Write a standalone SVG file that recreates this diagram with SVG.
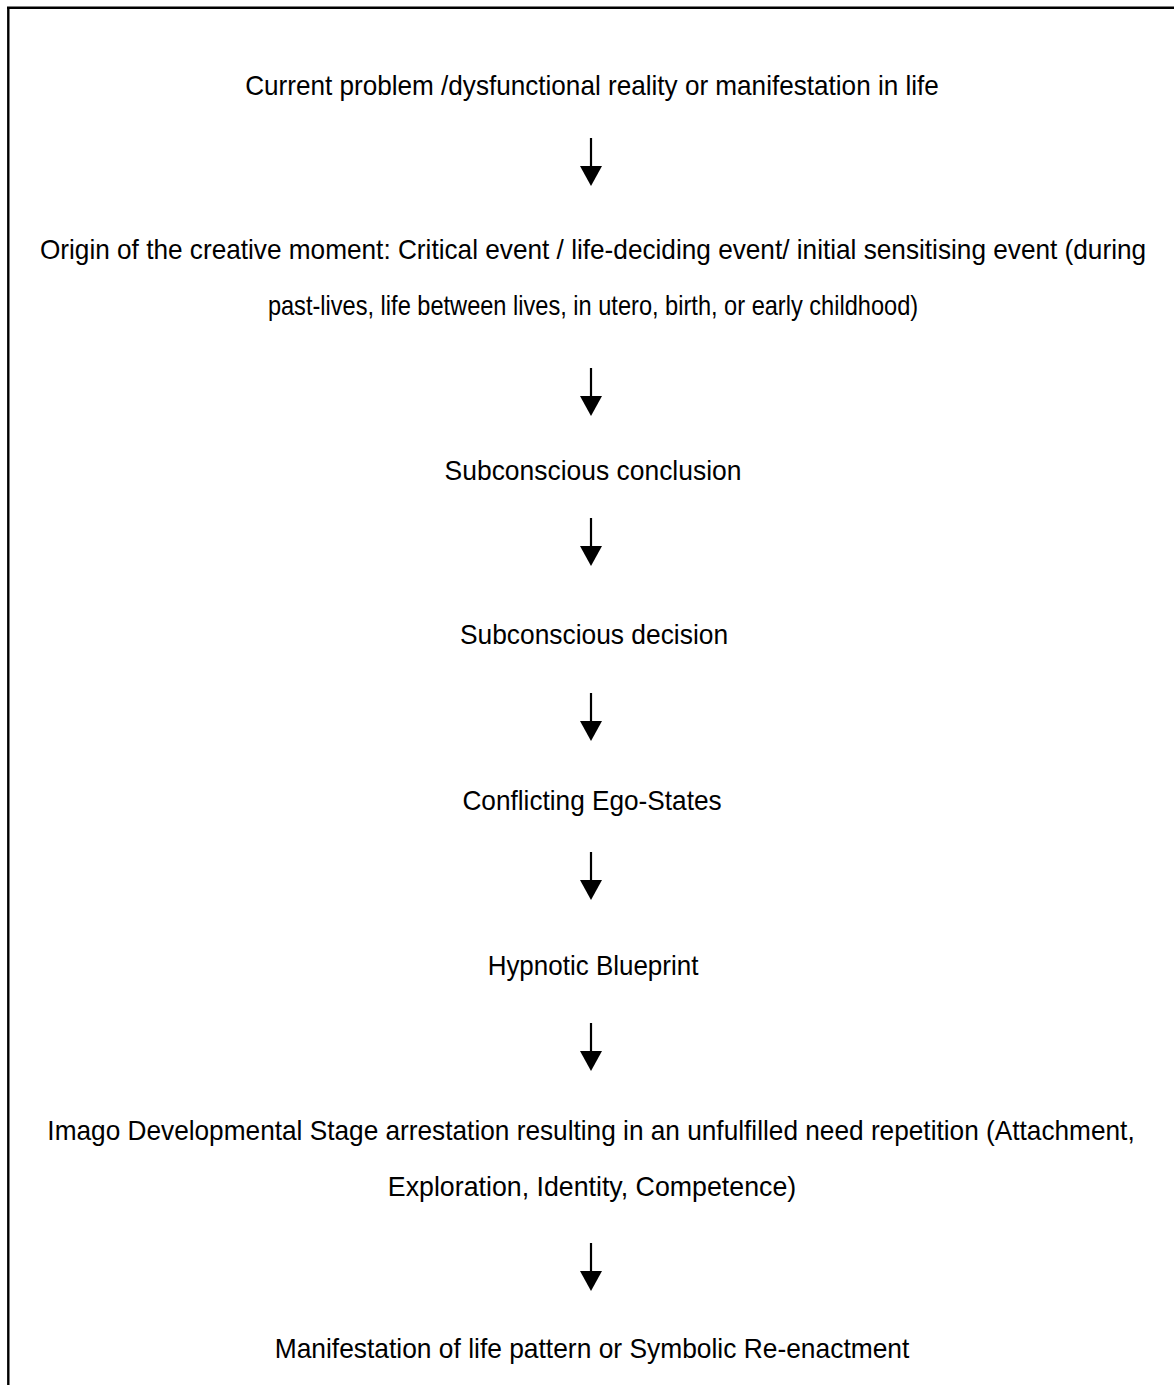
<svg xmlns="http://www.w3.org/2000/svg" width="1174" height="1385" viewBox="0 0 1174 1385">
<style>
.t{font-family:"Liberation Sans Narrow","Arial Narrow","Liberation Sans",Arial,sans-serif;font-size:28px;fill:#000;text-anchor:middle}
.s{stroke:#000;stroke-width:2.2;fill:none}
.h{fill:#000;stroke:none}
</style>
<defs>
<g id="arr">
<line class="s" x1="0" y1="0" x2="0" y2="29"/>
<polygon class="h" points="-11,28 11,28 0,48"/>
</g>
</defs>
<rect width="1174" height="1385" fill="#fff"/>
<g id="frame">
<line x1="7" y1="7.8" x2="1174" y2="7.8" stroke="#000" stroke-width="2.4"/>
<line x1="8.3" y1="7" x2="8.3" y2="1385" stroke="#000" stroke-width="2.4"/>
</g>
<g id="n1"><g transform="translate(592,95) scale(0.82,1)"><text class="t" x="0" y="0" textLength="846" lengthAdjust="spacingAndGlyphs">Current problem /dysfunctional reality or manifestation in life</text></g></g>
<g id="n2">
<g transform="translate(593,259) scale(0.82,1)"><text class="t" x="0" y="0" textLength="1349" lengthAdjust="spacingAndGlyphs">Origin of the creative moment: Critical event / life-deciding event/ initial sensitising event (during</text></g>
<g transform="translate(593,315) scale(0.82,1)"><text class="t" x="0" y="0" textLength="793" lengthAdjust="spacingAndGlyphs">past-lives, life between lives, in utero, birth, or early childhood)</text></g>
</g>
<g id="n3"><g transform="translate(593,480) scale(0.82,1)"><text class="t" x="0" y="0" textLength="362" lengthAdjust="spacingAndGlyphs">Subconscious conclusion</text></g></g>
<g id="n4"><g transform="translate(594,644) scale(0.82,1)"><text class="t" x="0" y="0" textLength="327" lengthAdjust="spacingAndGlyphs">Subconscious decision</text></g></g>
<g id="n5"><g transform="translate(592,810) scale(0.82,1)"><text class="t" x="0" y="0" textLength="316" lengthAdjust="spacingAndGlyphs">Conflicting Ego-States</text></g></g>
<g id="n6"><g transform="translate(593,975) scale(0.82,1)"><text class="t" x="0" y="0" textLength="257" lengthAdjust="spacingAndGlyphs">Hypnotic Blueprint</text></g></g>
<g id="n7">
<g transform="translate(591,1140) scale(0.82,1)"><text class="t" x="0" y="0" textLength="1326" lengthAdjust="spacingAndGlyphs">Imago Developmental Stage arrestation resulting in an unfulfilled need repetition (Attachment,</text></g>
<g transform="translate(592,1196) scale(0.82,1)"><text class="t" x="0" y="0" textLength="498" lengthAdjust="spacingAndGlyphs">Exploration, Identity, Competence)</text></g>
</g>
<g id="n8"><g transform="translate(592,1358) scale(0.82,1)"><text class="t" x="0" y="0" textLength="774" lengthAdjust="spacingAndGlyphs">Manifestation of life pattern or Symbolic Re-enactment</text></g></g>
<g id="connectors">
<use href="#arr" x="591" y="138"/>
<use href="#arr" x="591" y="368"/>
<use href="#arr" x="591" y="518"/>
<use href="#arr" x="591" y="693"/>
<use href="#arr" x="591" y="852"/>
<use href="#arr" x="591" y="1023"/>
<use href="#arr" x="591" y="1243"/>
</g>
</svg>
